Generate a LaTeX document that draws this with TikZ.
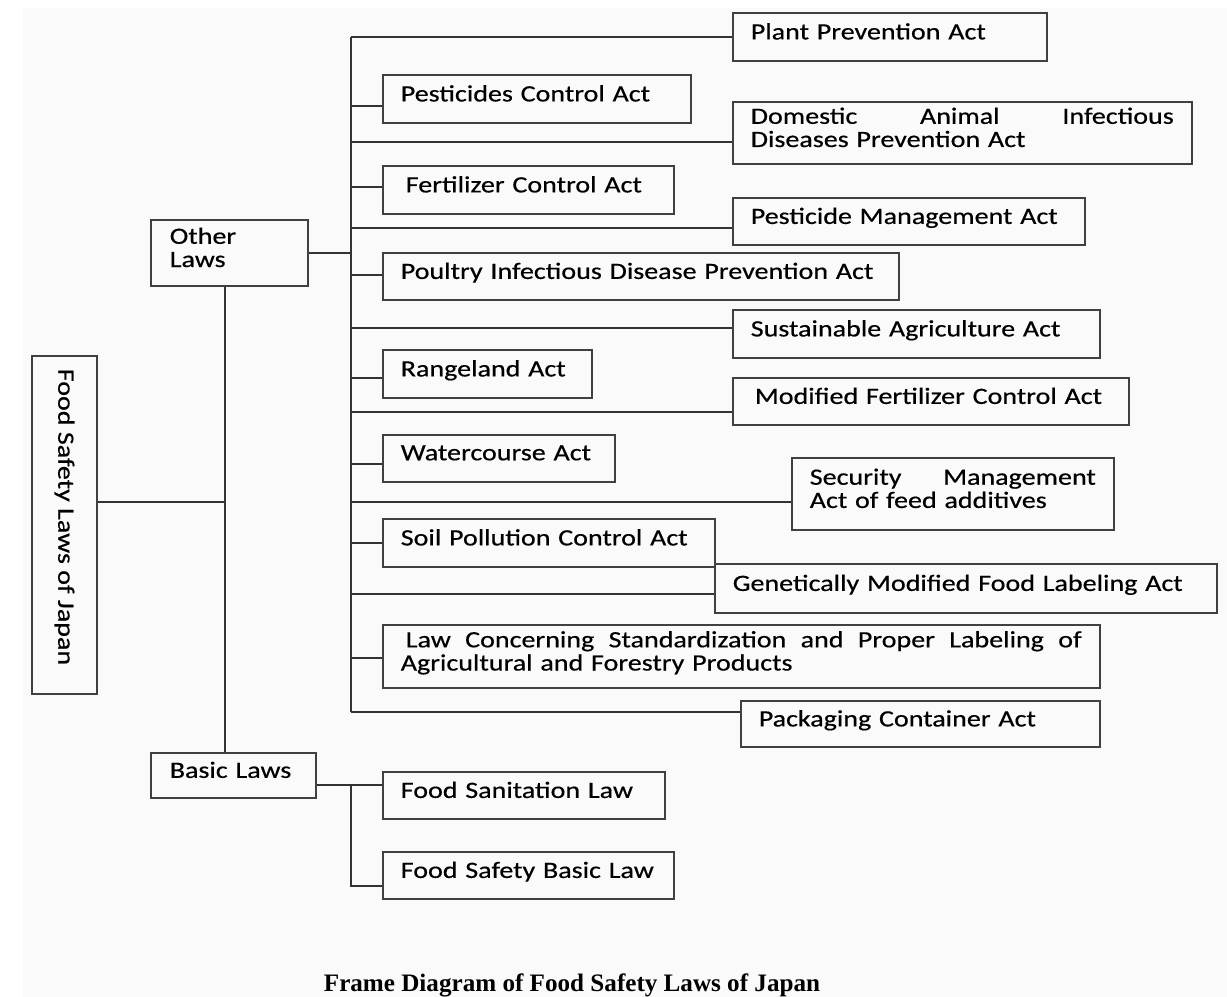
\documentclass[tikz,border=0pt]{standalone}
\usepackage{fontspec}
\newfontfamily\lawfont{Carlito}[FakeStretch=1.2, FakeBold=0.5]
\newfontfamily\capfont{Liberation Serif}
\usetikzlibrary{positioning}

\tikzset{
  law/.style 2 args={draw=black!75, line width=0.9pt, anchor=north west,
    inner xsep=0.36cm, inner ysep=0pt, text width={(#1-36)*0.02cm},
    minimum height={#2*0.02cm}, align=left,
    font=\lawfont\fontsize{13.3}{13.2}\selectfont,
    execute at end node={\rule[-0.22cm]{0pt}{0pt}}},
  link/.style={black!80, line width=1pt},
}

\begin{document}
\begin{tikzpicture}[x=0.02cm, y=-0.02cm]
  % page and grey sheet
  \useasboundingbox (0,0) rectangle (1227,997);
  \fill[white] (0,0) rectangle (1227,997);
  \fill[black!2] (23,8) rectangle (1227,997);

  % root and the two groups
  \node[draw=black!75, line width=0.9pt, rotate=-90, minimum width=338*0.02cm,
        minimum height=65*0.02cm, inner sep=0pt,
        font=\lawfont\fontsize{13.3}{13.2}\selectfont] (root) at (64.5,525)
        {Food Safety Laws of Japan\hspace*{0.32cm}};
  \node[law={157}{66}] (other) at (150,219) {\hspace*{0.02cm}Other\\\hspace*{0.02cm}Laws};
  \node[law={165}{45}] (basic) at (150,752) {\hspace*{0.02cm}Basic Laws};

  % other laws, left column
  \node[law={308}{48}] (pestctl) at (382,74) {Pesticides Control Act};
  \node[law={291}{48}] (fertctl) at (382,165) {\hspace*{0.1cm}Fertilizer Control Act};
  \node[law={516}{47}] (poultry) at (382,252) {Poultry Infectious Disease Prevention Act};
  \node[law={209}{48}] (rangeland) at (382,349) {Rangeland Act};
  \node[law={232}{47}] (watercourse) at (382,434) {Watercourse Act};
  \node[law={332}{48}] (soil) at (382,518) {Soil Pollution Control Act};
  \node[law={717}{63}] (standard) at (382,624)
    {\hspace*{0.1cm}Law\hfill Concerning\hfill Standardization\hfill and\hfill Proper\hfill Labeling\hfill of\\Agricultural and Forestry Products};

  % other laws, right column
  \node[law={314}{48}] (plant) at (732,12) {Plant Prevention Act};
  \node[law={459}{62}] (domestic) at (732,101)
    {Domestic\hfill Animal\hfill Infectious\\Diseases Prevention Act};
  \node[law={352}{47}] (pestmgmt) at (732,197) {Pesticide Management Act};
  \node[law={367}{48}] (sustain) at (732,309) {Sustainable Agriculture Act};
  \node[law={396}{47}] (modfert) at (732,377) {\hspace*{0.08cm}Modified Fertilizer Control Act};
  \node[law={322}{72}] (security) at (791,457)
    {Security\hfill Management\\Act of feed additives};
  \node[law={502}{49}] (gmlabel) at (714,563) {Genetically Modified Food Labeling Act};
  \node[law={359}{46}] (packaging) at (740,700) {Packaging Container Act};

  % basic laws
  \node[law={282}{47}] (foodsan) at (382,771) {Food Sanitation Law};
  \node[law={291}{47}] (foodbasic) at (382,851) {Food Safety Basic Law};

  % connectors
  \coordinate (trunk) at (351,37);
  \coordinate (spine) at (225,502);
  \coordinate (bjoint) at (351,785);
  \draw[link] (trunk) -- (trunk |- 0,712);
  \foreach \n/\y in {plant/37, pestctl/106, domestic/142, fertctl/187,
                     pestmgmt/228, poultry/275, sustain/328, rangeland/378,
                     modfert/412, watercourse/464, security/502, soil/543,
                     gmlabel/594, standard/658, packaging/712}
    \draw[link] (trunk |- 0,\y) -- (\n.west |- 0,\y);
  \draw[link] (other.east) -- (other.east -| trunk);
  \draw[link] (other.south -| spine) -- (basic.north -| spine);
  \draw[link] (root.north |- spine) -- (spine);
  \draw[link] (basic.east |- bjoint) -- (foodsan.west |- bjoint);
  \draw[link] (bjoint) -- (bjoint |- 0,886) -- (foodbasic.west |- 0,886);

  % caption
  \node[font=\capfont\bfseries\fontsize{14.3}{16}\selectfont, inner sep=0pt] (caption)
    at (572,985) {Frame Diagram of Food Safety Laws of Japan};
\end{tikzpicture}
\end{document}
